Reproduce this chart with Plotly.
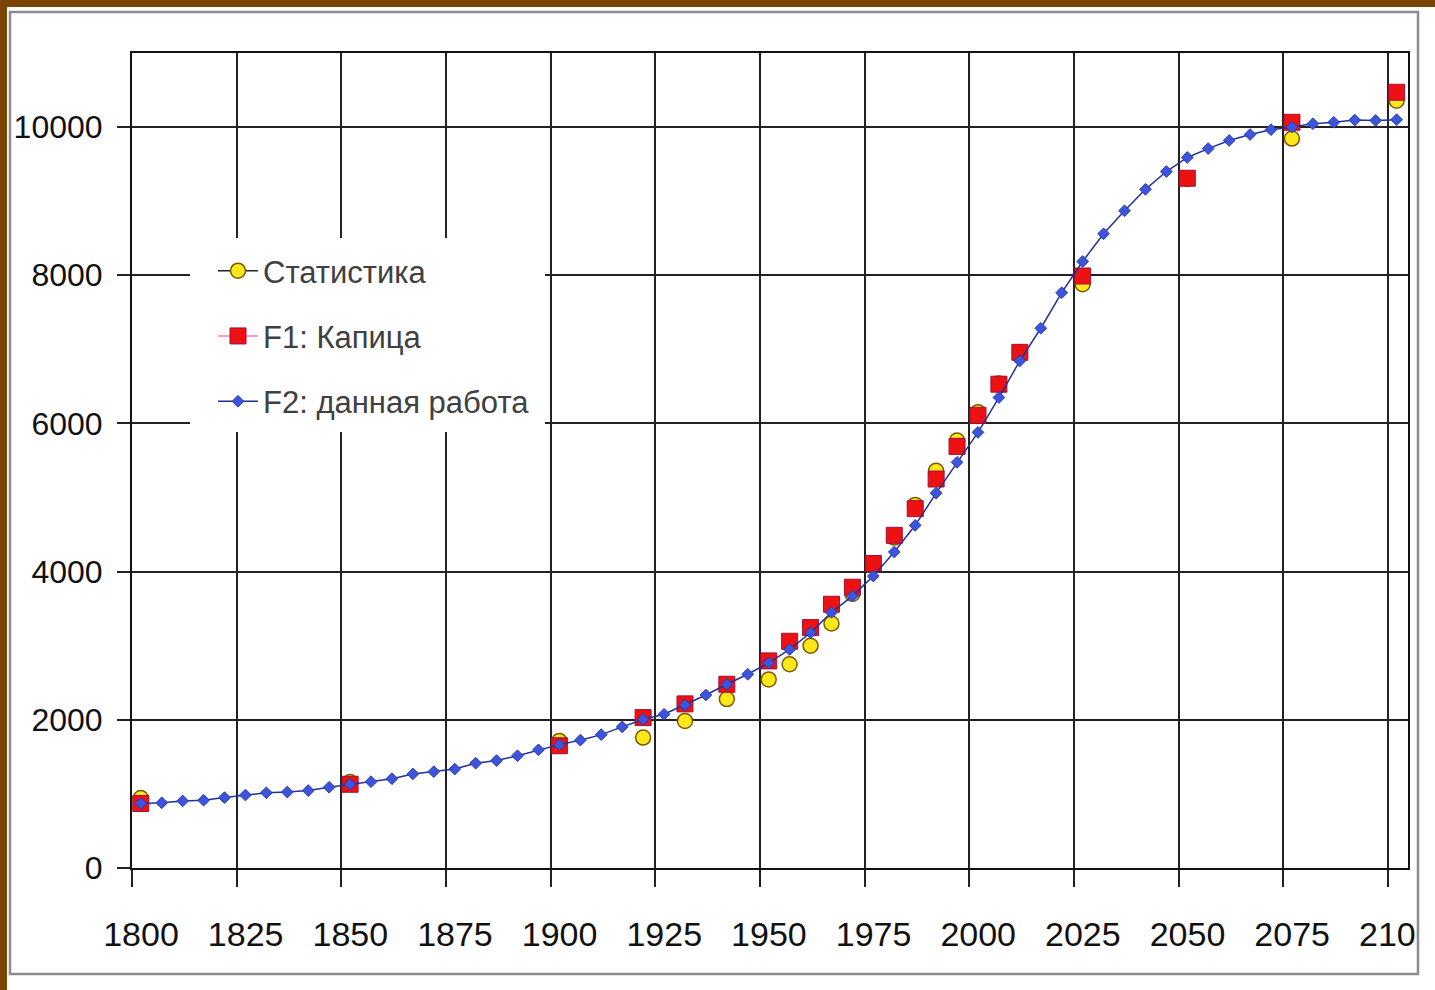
import plotly.graph_objects as go

# ---------------- data ----------------
stat_years = [1800, 1850, 1900, 1920, 1930, 1940, 1950, 1955, 1960, 1965, 1970, 1975,
              1980, 1985, 1990, 1995, 2000, 2005, 2010, 2025, 2050, 2075, 2100]
stat_values = [945, 1160, 1715, 1760, 1985, 2280, 2545, 2750, 3000, 3300, 3700, 4080,
               4460, 4900, 5360, 5770, 6150, 6540, 6960, 7880, 9300, 9845, 10355]

f1_years = stat_years
f1_values = [870, 1130, 1650, 2030, 2215, 2480, 2795, 3060, 3245, 3560, 3790, 4110,
             4490, 4850, 5250, 5690, 6110, 6530, 6960, 7990, 9310, 10065, 10470]

f2_years = list(range(1800, 2101, 5))
f2_values = [870, 880, 905, 915, 950, 985, 1015, 1025, 1045, 1090,
             1130, 1165, 1205, 1270, 1300, 1335, 1415, 1450, 1515, 1595,
             1665, 1725, 1800, 1905, 2005, 2075, 2200, 2335, 2480, 2615,
             2770, 2950, 3175, 3450, 3670, 3940, 4265, 4625, 5060, 5475,
             5880, 6350, 6845, 7285, 7765, 8186, 8560, 8870, 9160, 9400,
             9590, 9710, 9820, 9900, 9965, 10000, 10045, 10065, 10095, 10090,
             10100]

x_tick_labels = [1800, 1825, 1850, 1875, 1900, 1925, 1950, 1975, 2000, 2025, 2050, 2075, 2100]
y_tick_values = [0, 2000, 4000, 6000, 8000, 10000]

series_names = ["Статистика", "F1: Капица", "F2: данная работа"]

# ---------------- layout geometry ----------------
W, H = 1435, 990
ML, MR, MT, MB = 132, 27, 53, 122
PW, PH = W - ML - MR, H - MT - MB
GRID_SHIFT = -2.1          # gridlines sit slightly left of the year positions
X0 = 1800 + GRID_SHIFT
PX_PER_YEAR = 4.186
X1 = X0 + PW / PX_PER_YEAR


def xp(px):
    return (px - ML) / PW


def yp(py):
    return (H - MB - py) / PH


FONT = "Liberation Sans, Arial, sans-serif"

STAT_MARKER = dict(symbol="circle", size=15, color="#ffe81a", line=dict(color="#7a5a00", width=1.5))
F1_MARKER = dict(symbol="square", size=16, color="#ee1111", line=dict(color="#a0103a", width=1))
F2_MARKER = dict(symbol="diamond", size=9, color="#3d55dd", line=dict(color="#2a3ab0", width=1))

fig = go.Figure()

# plotted marks
fig.add_trace(go.Scatter(x=stat_years, y=stat_values, name=series_names[0], mode="markers",
                         marker=STAT_MARKER, showlegend=False))
fig.add_trace(go.Scatter(x=f1_years, y=f1_values, name=series_names[1], mode="markers",
                         marker=F1_MARKER, showlegend=False))
fig.add_trace(go.Scatter(x=f2_years, y=f2_values, name=series_names[2], mode="lines+markers",
                         line=dict(color="#23309a", width=1.5), marker=F2_MARKER,
                         showlegend=False))

# legend entries (line + marker keys)
fig.add_trace(go.Scatter(x=[None], y=[None], name=series_names[0], mode="lines+markers",
                         legendgroup="g1", line=dict(color="#222222", width=1.5),
                         marker=STAT_MARKER))
fig.add_trace(go.Scatter(x=[None], y=[None], name=series_names[1], mode="lines+markers",
                         legendgroup="g2", line=dict(color="#ff9cc0", width=2),
                         marker=F1_MARKER))
fig.add_trace(go.Scatter(x=[None], y=[None], name=series_names[2], mode="lines+markers",
                         legendgroup="g3", line=dict(color="#23309a", width=1.5),
                         marker=F2_MARKER))

shapes = [
    # white box behind legend (interrupts gridlines)
    dict(type="rect", xref="paper", yref="paper", layer="above",
         x0=xp(190), x1=xp(545), y0=yp(432), y1=yp(238),
         fillcolor="white", line=dict(width=0)),
    # clip area right of the chart frame
    dict(type="rect", xref="paper", yref="paper", layer="above",
         x0=xp(1419), x1=xp(W + 5), y0=yp(H + 5), y1=yp(8),
         fillcolor="white", line=dict(width=0)),
    # chart frame
    dict(type="rect", xref="paper", yref="paper", layer="above",
         x0=xp(10), x1=xp(1418), y0=yp(974), y1=yp(12),
         fillcolor="rgba(0,0,0,0)", line=dict(color="#8c8c8c", width=2.5)),
    # brown slide border (top and left)
    dict(type="rect", xref="paper", yref="paper", layer="above",
         x0=xp(-5), x1=xp(W + 5), y0=yp(7), y1=yp(-5),
         fillcolor="#7a4500", line=dict(width=0)),
    dict(type="rect", xref="paper", yref="paper", layer="above",
         x0=xp(-5), x1=xp(7), y0=yp(H + 5), y1=yp(-5),
         fillcolor="#7a4500", line=dict(width=0)),
]

fig.update_layout(
    width=W, height=H,
    margin=dict(l=ML, r=MR, t=MT, b=MB, pad=0, autoexpand=False),
    paper_bgcolor="white", plot_bgcolor="white",
    font=dict(family=FONT, color="#111111"),
    showlegend=True,
    legend=dict(
        x=xp(213), y=yp(244), xanchor="left", yanchor="top",
        bgcolor="white", borderwidth=0,
        font=dict(family=FONT, size=31, color="#404040"),
        tracegroupgap=22, itemwidth=40,
    ),
    shapes=shapes,
)

fig.update_xaxes(
    range=[X0, X1], automargin=False,
    tickmode="array",
    tickvals=[t + GRID_SHIFT for t in x_tick_labels],
    ticktext=[str(t) for t in x_tick_labels],
    ticklabelshift=9, ticklabelstandoff=18, ticklabeloverflow="allow",
    ticks="outside", ticklen=17, tickwidth=2, tickcolor="#222222",
    showgrid=True, gridcolor="#222222", gridwidth=2,
    showline=True, linecolor="#111111", linewidth=2, mirror=True,
    zeroline=False,
    tickfont=dict(family=FONT, size=34, color="#111111"),
)
fig.update_yaxes(
    range=[0, 11000], automargin=False,
    tickmode="array",
    tickvals=y_tick_values,
    ticktext=[str(v) for v in y_tick_values],
    ticklabelstandoff=8, ticklabeloverflow="allow",
    ticks="outside", ticklen=13, tickwidth=2, tickcolor="#222222",
    showgrid=True, gridcolor="#222222", gridwidth=2,
    showline=True, linecolor="#111111", linewidth=2, mirror=True,
    zeroline=False,
    tickfont=dict(family=FONT, size=32, color="#111111"),
)

fig.write_html("out.html")
